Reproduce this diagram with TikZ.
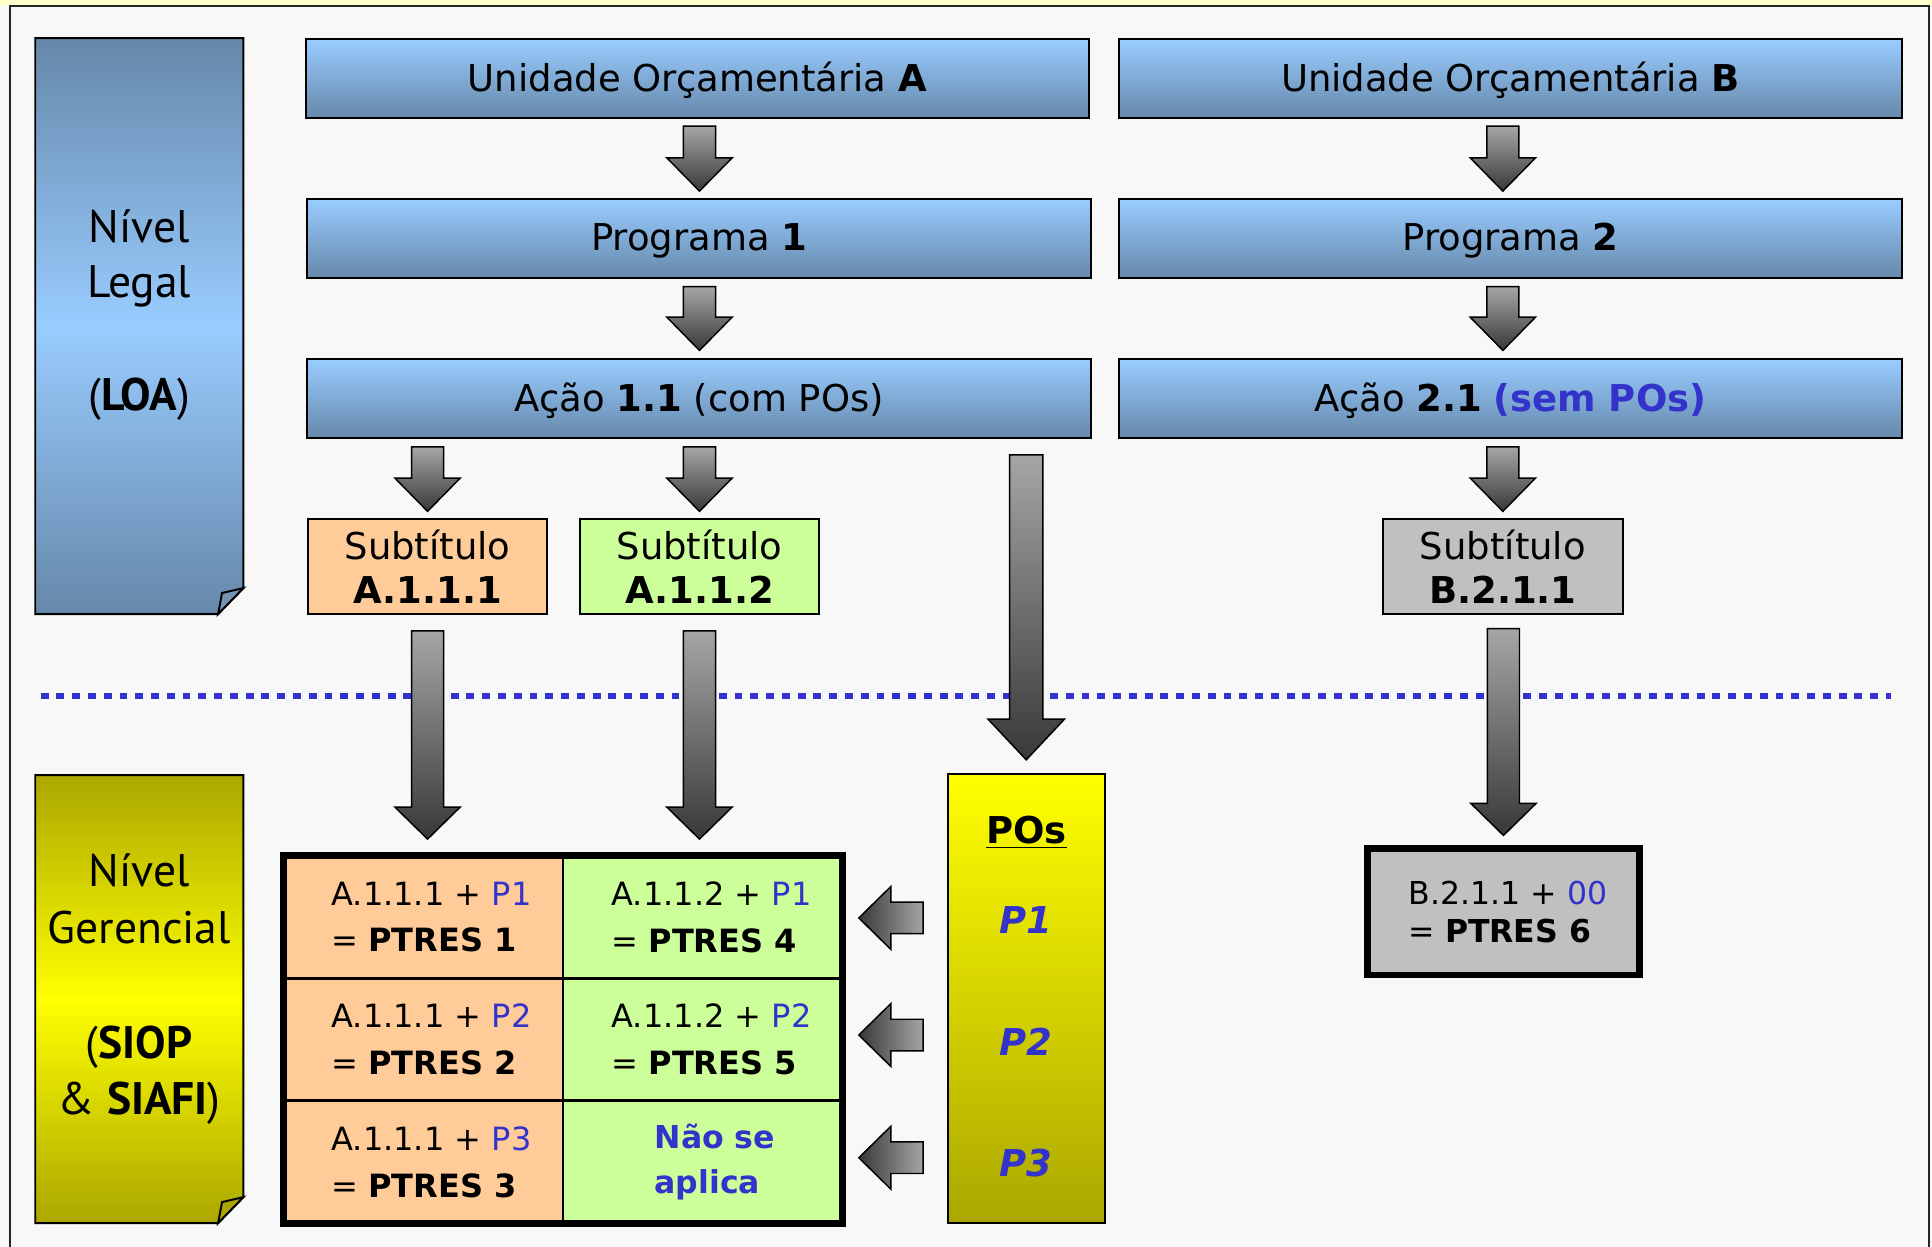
\documentclass[tikz,border=0pt]{standalone}
\usepackage{fontspec}
\setmainfont{DejaVu Sans}[ItalicFont={DejaVu Sans Oblique},BoldItalicFont={DejaVu Sans Bold Oblique}]
\newfontfamily\panelfont{PT Sans}
\usepackage{tikz}
\usetikzlibrary{calc}
\usetikzlibrary{positioning}

\definecolor{steel}{HTML}{6688AA}
\definecolor{skyblue}{HTML}{99CCFF}
\definecolor{subpeach}{HTML}{FFCC99}
\definecolor{subgreen}{HTML}{CCFF99}
\definecolor{subgray}{HTML}{C0C0C0}
\definecolor{poolive}{HTML}{ABA700}
\definecolor{poblue}{HTML}{3333CC}
\definecolor{paper}{HTML}{F8F8F8}
\definecolor{strip}{HTML}{FFFFCC}

\tikzset{
  bluebox/.style={draw=black, line width=0.8pt, top color=skyblue, bottom color=steel,
    minimum width=318pt, minimum height=32.3pt, inner sep=0pt, text height=10.9pt, text depth=0.8pt,
    font=\fontsize{15}{18}\selectfont},
  subbox/.style={draw=black, line width=0.8pt, minimum width=97.2pt, minimum height=38.5pt,
    inner sep=0pt, align=center, font=\fontsize{15}{17.85}\selectfont},
  cell/.style={draw=black, line width=1.1pt, minimum width=113.55pt, minimum height=49.7pt,
    inner sep=0pt, outer sep=0pt},
  celltext/.style={anchor=west, align=left, inner sep=0pt, font=\fontsize{13}{19}\selectfont},
  arrowfill/.style={draw=black, line width=0.6pt, top color=black!35, bottom color=black!78},
  leftfill/.style={draw=black, line width=0.6pt, left color=black!78, right color=black!35},
  paneltext/.style={align=center, inner sep=0pt, font=\panelfont\fontsize{18.5}{22.3}\selectfont},
}

% block arrows: #1 top of shaft, #2 tip, #3 half shaft, #4 half head, #5 head length
\newcommand{\downblock}[5]{%
  \path[arrowfill] let \p1=#1, \p2=#2 in
    (\x2-#3,\y1) -- (\x2+#3,\y1) -- (\x2+#3,\y2+#5) -- (\x2+#4,\y2+#5)
    -- (\x2,\y2) -- (\x2-#4,\y2+#5) -- (\x2-#3,\y2+#5) -- cycle;}
\newcommand{\leftblock}[5]{%
  \path[leftfill] let \p1=#1, \p2=#2 in
    (\x1,\y2+#3) -- (\x2+#5,\y2+#3) -- (\x2+#5,\y2+#4) -- (\x2,\y2)
    -- (\x2+#5,\y2-#4) -- (\x2+#5,\y2-#3) -- (\x1,\y2-#3) -- cycle;}

\begin{document}
\begin{tikzpicture}[x=0.5pt, y=-0.5pt]
    \useasboundingbox (0,0) rectangle (1568,1012);
    \fill[paper] (0,0) rectangle (1568,1012);
    \fill[strip] (0,0) rectangle (1568,5);
    \draw[line width=0.9pt, black!85] (8,1012) -- (8,5) -- (1565.5,5) -- (1565.5,1012);

    \draw[poblue, line width=2.6pt, dash pattern=on 3.2pt off 3.2pt] (33,565) -- (1535,565);

    \draw[line width=0.8pt, top color=steel, bottom color=steel, middle color=skyblue]
        (28.6,31) -- (197.5,31) -- (197.5,477.3) -- (177,498.4) -- (28.6,498.4) -- cycle;
    \draw[line width=0.8pt, fill=steel!90!white] (177,498.4) -- (180.2,481.3) -- (197.5,477.3) -- cycle;
    \node[paneltext] (legal) at (113,256) {Nível\\Legal\\[23.5pt](\textbf{LOA})};

    \draw[line width=0.8pt, top color=poolive, bottom color=poolive, middle color=yellow]
        (28.6,629) -- (197.5,629) -- (197.5,971.6) -- (177,992.7) -- (28.6,992.7) -- cycle;
    \draw[line width=0.8pt, fill=poolive] (177,992.7) -- (180.2,975.6) -- (197.5,971.6) -- cycle;
    \node[paneltext, font=\panelfont\fontsize{18.5}{23}\selectfont] (gerencial) at (113,803)
        {Nível\\Gerencial\\[23.5pt](\textbf{SIOP}\\\& \textbf{SIAFI})};

    \node[bluebox] (ua) at (566,63.8) {Unidade Orçamentária \textbf{A}};
    \node[bluebox] (ub) at (1225.8,63.8) {Unidade Orçamentária \textbf{B}};
    \node[bluebox] (p1) at (567.5,193.6) {Programa \textbf{1}};
    \node[bluebox] (p2) at (1225.8,193.6) {Programa \textbf{2}};
    \node[bluebox] (ac1) at (567.5,323.5) {Ação \textbf{1.1} (com POs)};
    \node[bluebox] (ac2) at (1225.8,323.5) {Ação \textbf{2.1} \textcolor{poblue}{\textbf{(sem POs)}}};

    \node[subbox, fill=subpeach] (s1) at (347,459.8) {Subtítulo\\\textbf{A.1.1.1}};
    \node[subbox, fill=subgreen] (s2) at (567.7,459.8) {Subtítulo\\\textbf{A.1.1.2}};
    \node[subbox, fill=subgray] (s3) at (1219.7,459.8) {Subtítulo\\\textbf{B.2.1.1}};

    \node[cell, fill=subpeach] (c11) at (343.35,744.2) {};
    \node[cell, fill=subgreen, right=0pt of c11] (c12) {};
    \node[cell, fill=subpeach, below=0pt of c11] (c21) {};
    \node[cell, fill=subgreen, right=0pt of c21] (c22) {};
    \node[cell, fill=subpeach, below=0pt of c21] (c31) {};
    \node[cell, fill=subgreen, right=0pt of c31] (c32) {};
    \draw[line width=2.75pt] (c11.north west) rectangle (c32.south east);

    \node[celltext] (t11) at ($(c11.west)+(38.8,0)$) {A.1.1.1 + \textcolor{poblue}{P1}\\= \textbf{PTRES 1}};
    \node[celltext] (t12) at ($(c12.west)+(39,0)$) {A.1.1.2 + \textcolor{poblue}{P1}\\= \textbf{PTRES 4}};
    \node[celltext] (t21) at ($(c21.west)+(38.8,0)$) {A.1.1.1 + \textcolor{poblue}{P2}\\= \textbf{PTRES 2}};
    \node[celltext] (t22) at ($(c22.west)+(39,0)$) {A.1.1.2 + \textcolor{poblue}{P2}\\= \textbf{PTRES 5}};
    \node[celltext] (t31) at ($(c31.west)+(38.8,0)$) {A.1.1.1 + \textcolor{poblue}{P3}\\= \textbf{PTRES 3}};
    \node[celltext, text=poblue, font=\bfseries\fontsize{12.8}{18}\selectfont] (t32)
        at ($(c32.west)+(74,0)$) {Não se\\aplica};

    \node[draw=black, line width=2.75pt, fill=subgray, minimum width=110.65pt, minimum height=51.25pt] (pt6) at (1220.2,740) {};
    \node[celltext, font=\fontsize{12.8}{15.5}\selectfont] (t6) at ($(pt6.west)+(36,0)$)
        {B.2.1.1 + \textcolor{poblue}{00}\\= \textbf{PTRES 6}};

    \node[draw=black, line width=0.8pt, top color=yellow, bottom color=poolive,
        minimum width=63.9pt, minimum height=182.35pt] (pos) at (832.9,810.4) {};
    \node[anchor=base, inner sep=0pt, font=\bfseries\fontsize{15}{18}\selectfont] (potitle) at (833,684.5) {\underline{POs}};
    \node[anchor=base, inner sep=0pt, text=poblue, font=\bfseries\itshape\fontsize{15}{18}\selectfont] (po1) at (832.5,757.5) {P1};
    \node[anchor=base, inner sep=0pt, text=poblue, font=\bfseries\itshape\fontsize{15}{18}\selectfont] (po2) at (832.5,857) {P2};
    \node[anchor=base, inner sep=0pt, text=poblue, font=\bfseries\itshape\fontsize{15}{18}\selectfont] (po3) at (832.5,955) {P3};

    \downblock{($(ua.south)+(0,5.4)$)}{($(p1.north -| s2.north)+(0,-5.4)$)}{6.5pt}{13.25pt}{13.5pt}
    \downblock{($(p1.south)+(0,6)$)}{($(ac1.north -| s2.north)+(0,-6)$)}{6.5pt}{13.25pt}{13.5pt}
    \downblock{($(ub.south)+(0,5.4)$)}{($(p2.north -| s3.north)+(0,-5.4)$)}{6.5pt}{13.25pt}{13.5pt}
    \downblock{($(p2.south)+(0,6)$)}{($(ac2.north -| s3.north)+(0,-6)$)}{6.5pt}{13.25pt}{13.5pt}
    \downblock{($(ac1.south)+(0,6)$)}{($(s1.north)+(0,-5.5)$)}{6.5pt}{13.25pt}{13.5pt}
    \downblock{($(ac1.south)+(0,6)$)}{($(s2.north)+(0,-5.5)$)}{6.5pt}{13.25pt}{13.5pt}
    \downblock{($(ac2.south)+(0,6)$)}{($(s3.north)+(0,-5.5)$)}{6.5pt}{13.25pt}{13.5pt}

    \downblock{($(s1.south)+(0,13)$)}{($(c11.north -| s1.south)+(0,-13.5)$)}{6.5pt}{13.25pt}{13pt}
    \downblock{($(s2.south)+(0,13)$)}{($(c12.north -| s2.south)+(0,-13.5)$)}{6.5pt}{13.25pt}{13pt}
    \downblock{($(s3.south)+(0,11)$)}{($(pt6.north)+(0,-8)$)}{6.5pt}{13.25pt}{13pt}
    \downblock{($(ac1.south)+(0,12.5)$)}{($(pos.north)+(0,-10.6)$)}{6.75pt}{15.5pt}{16.5pt}

    \leftblock{($(pos.west |- c12.east)+(-19,0.8)$)}{($(c12.east)+(13,0.8)$)}{6.4pt}{12.75pt}{13pt}
    \leftblock{($(pos.west |- c22.east)+(-19,-3.6)$)}{($(c22.east)+(13,-3.6)$)}{6.4pt}{12.75pt}{13pt}
    \leftblock{($(pos.west |- c32.east)+(-19,-3.4)$)}{($(c32.east)+(13,-3.4)$)}{6.4pt}{12.75pt}{13pt}
\end{tikzpicture}
\end{document}
